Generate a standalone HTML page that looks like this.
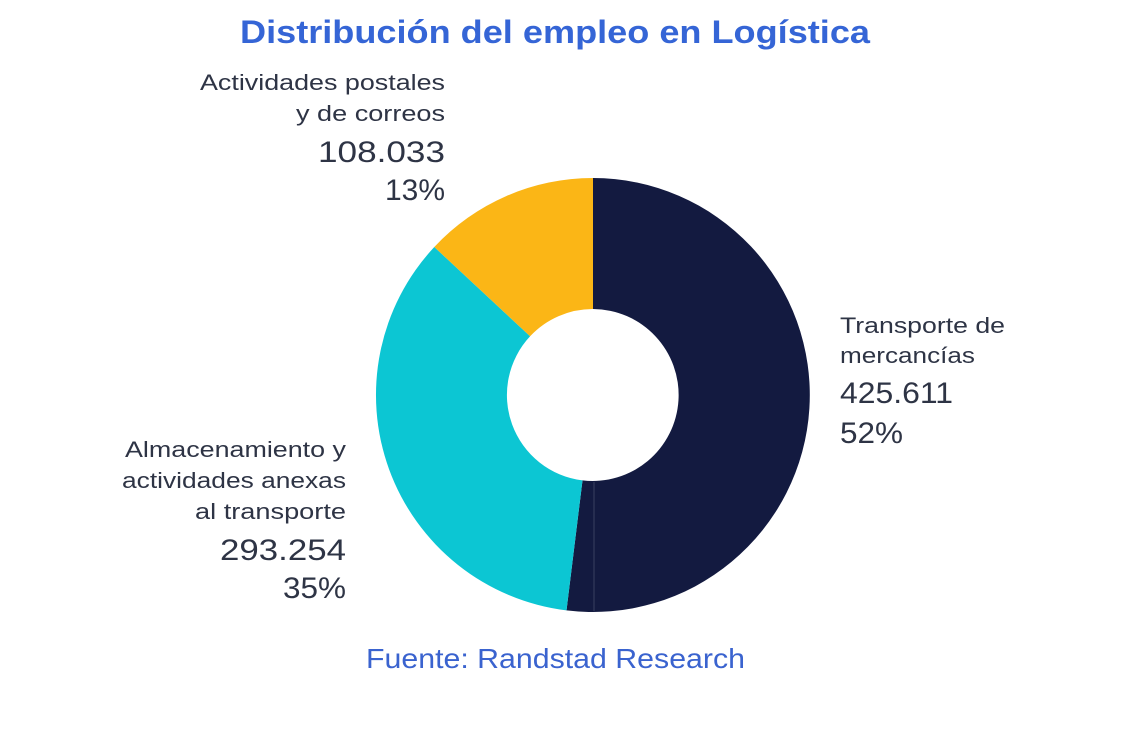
<!DOCTYPE html>
<html><head><meta charset="utf-8"><style>
html,body{margin:0;padding:0;background:#fff;}
svg{display:block;}
.l{font-family:"Liberation Sans",sans-serif;fill:#2e3445;font-size:22px;}
.n{font-family:"Liberation Sans",sans-serif;fill:#2e3445;font-size:30px;}
</style></head><body>
<svg width="1137" height="741" viewBox="0 0 1137 741">
<text x="240" y="43" textLength="630" lengthAdjust="spacingAndGlyphs" font-family="Liberation Sans, sans-serif" font-weight="bold" font-size="32" fill="#3565d6">Distribución del empleo en Logística</text>
<path d="M593,178 A217,217 0 1 1 566.5,610.4 L582.5,480.4 A86,86 0 1 0 593,309 Z" fill="#131a40"/>
<line x1="594" y1="482" x2="594" y2="611" stroke="#3a4060" stroke-width="1"/>
<path d="M566.5,610.4 A217,217 0 0 1 434.3,247 L530.1,336.3 A86,86 0 0 0 582.5,480.4 Z" fill="#0cc6d3"/>
<path d="M434.3,247 A217,217 0 0 1 593,178 L593,309 A86,86 0 0 0 530.1,336.3 Z" fill="#fbb616"/>
<text class="l" x="200" y="90" textLength="245" lengthAdjust="spacingAndGlyphs">Actividades postales</text>
<text class="l" x="296" y="121" textLength="149" lengthAdjust="spacingAndGlyphs">y de correos</text>
<text class="n" x="318" y="162" textLength="127" lengthAdjust="spacingAndGlyphs">108.033</text>
<text class="n" x="385" y="200" textLength="60" lengthAdjust="spacingAndGlyphs">13%</text>
<text class="l" x="125" y="457" textLength="221" lengthAdjust="spacingAndGlyphs">Almacenamiento y</text>
<text class="l" x="122" y="488" textLength="224" lengthAdjust="spacingAndGlyphs">actividades anexas</text>
<text class="l" x="195" y="519" textLength="151" lengthAdjust="spacingAndGlyphs">al transporte</text>
<text class="n" x="220" y="560" textLength="126" lengthAdjust="spacingAndGlyphs">293.254</text>
<text class="n" x="283" y="598" textLength="63" lengthAdjust="spacingAndGlyphs">35%</text>
<text class="l" x="840" y="333" textLength="165" lengthAdjust="spacingAndGlyphs">Transporte de</text>
<text class="l" x="840" y="363" textLength="135" lengthAdjust="spacingAndGlyphs">mercancías</text>
<text class="n" x="840" y="403" textLength="113" lengthAdjust="spacingAndGlyphs">425.611</text>
<text class="n" x="840" y="443" textLength="63" lengthAdjust="spacingAndGlyphs">52%</text>
<text x="366" y="668" textLength="379" lengthAdjust="spacingAndGlyphs" font-family="Liberation Sans, sans-serif" font-size="28" fill="#3a63cf">Fuente: Randstad Research</text>
</svg>
</body></html>
